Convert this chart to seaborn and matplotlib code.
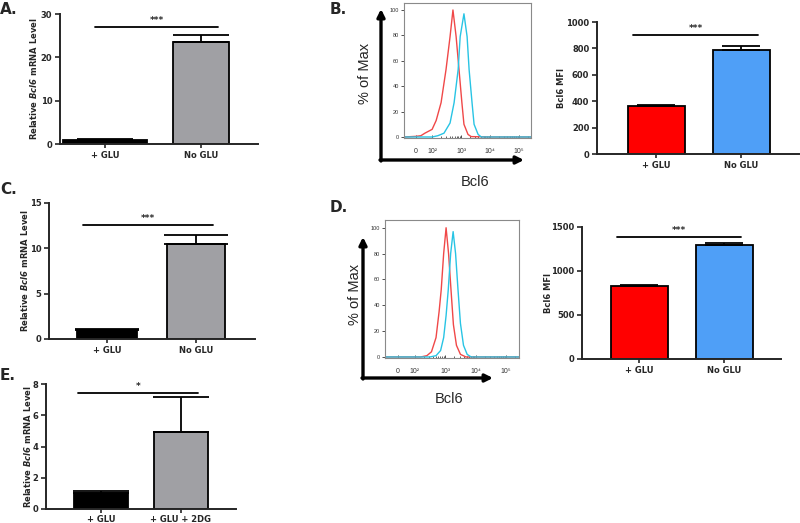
import numpy as np
import pandas as pd
import matplotlib
matplotlib.use('Agg')
import matplotlib.pyplot as plt
import matplotlib.ticker as mticker
import seaborn as sns

sns.set_style("ticks")
plt.rcParams['font.family'] = ['DejaVu Sans']
plt.rcParams['mathtext.fontset'] = 'custom'
plt.rcParams['mathtext.rm'] = 'DejaVu Sans'
plt.rcParams['mathtext.it'] = 'DejaVu Sans:italic'
plt.rcParams['mathtext.bf'] = 'DejaVu Sans:bold'
plt.rcParams['mathtext.bfit'] = 'DejaVu Sans:italic:bold'

# ---- data ----
# A. qPCR, glucose vs no glucose
a_groups = ['+ GLU', 'No GLU']
a_means = [1.0, 23.6]
a_sem = [0.1, 1.6]

# C. qPCR, second experiment
c_groups = ['+ GLU', 'No GLU']
c_means = [1.0, 10.5]
c_sem = [0.08, 1.0]

# E. qPCR, 2-deoxyglucose
e_groups = ['+ GLU', '+ GLU + 2DG']
e_means = [1.05, 4.95]
e_sem = [0.12, 2.2]

# B / D. Bcl6 MFI
b_groups = ['+ GLU', 'No GLU']
b_mfi = [365, 790]
b_sem = [10, 25]
d_groups = ['+ GLU', 'No GLU']
d_mfi = [835, 1290]
d_sem = [10, 30]

# B / D. flow histograms (Bcl6 intensity, % of max)
b_red_x = [-75, 0, 30, 55, 100, 138, 204, 302, 417, 525, 676, 851, 1070, 1260, 1740, 2240, 10000, 262144]
b_red_y = [0, 0.5, 1, 3, 6, 13, 27, 53, 79, 100, 79, 53, 27, 10, 2, 0.3, 0, 0]
b_blue_x = [-75, 100, 158, 257, 417, 575, 794, 933, 1260, 1620, 1900, 2400, 2820, 3890, 5010, 262144]
b_blue_y = [0, 0, 1, 3, 11, 27, 53, 79, 97, 79, 53, 27, 10, 2, 0, 0]
d_red_x = [-75, 158, 251, 355, 501, 631, 741, 891, 1070, 1290, 1550, 1860, 2340, 3160, 4790, 262144]
d_red_y = [0, 0, 1, 4, 15, 35, 52, 80, 100, 80, 52, 25, 9, 2, 0, 0]
d_blue_x = [-75, 316, 501, 708, 891, 1070, 1260, 1510, 1820, 2190, 2630, 3160, 3980, 5250, 7080, 262144]
d_blue_y = [0, 0, 1, 5, 15, 32, 52, 80, 97, 80, 52, 26, 9, 2, 0, 0]

hist_ticks = [0, 1e2, 1e3, 1e4, 1e5]
hist_ticklabels = ['0', '10²', '10³', '10⁴', '10⁵']

W, H = 800, 523
fig = plt.figure(figsize=(W / 100, H / 100), dpi=100)
ARIAL = ['Liberation Sans', 'DejaVu Sans']


def px_axes(l, t, r, b):
    return fig.add_axes([l / W, 1 - b / H, (r - l) / W, (b - t) / H])


def bar_panel(box, groups, means, sems, colors, ylim, yticks, xlim, widths,
              sig_x, sig_y, stars, ylabel, label_x, capsize, xpad=2):
    ax = px_axes(*box)
    df = pd.DataFrame({'group': groups, 'value': means})
    sns.barplot(data=df, x='group', y='value', hue='group', palette=colors,
                legend=False, ax=ax, width=0.67, saturation=1,
                edgecolor='black', linewidth=1.3, errorbar=None)
    # per-bar widths as drawn in the original
    for p, w, xc in zip(ax.patches, widths, range(len(groups))):
        p.set_width(w)
        p.set_x(xc - w / 2)
    ax.errorbar(range(len(groups)), means, yerr=[np.zeros(len(sems)), sems],
                fmt='none', ecolor='black', elinewidth=1.3, capsize=capsize,
                capthick=1.3, zorder=1)
    ax.set_ylim(*ylim)
    ax.set_xlim(*xlim)
    ax.set_yticks(yticks)
    ax.set_xlabel('')
    ax.set_ylabel(ylabel, fontsize=6, fontweight='bold')
    ax.yaxis.set_label_coords(label_x, 0.5)
    sns.despine(ax=ax)
    for s in ['left', 'bottom']:
        ax.spines[s].set_linewidth(1.4)
    ax.tick_params(axis='both', length=3.5, width=1.2, labelsize=6, pad=2)
    ax.tick_params(axis='x', pad=xpad, length=3)
    for lab in ax.get_xticklabels() + ax.get_yticklabels():
        lab.set_fontweight('bold')
    ax.plot(sig_x, [sig_y, sig_y], color='black', lw=1.3, clip_on=False)
    ax.text(np.mean(sig_x), sig_y + (ylim[1] - ylim[0]) * 0.015, stars,
            ha='center', va='bottom', fontsize=6.5, fontweight='bold')
    ax.set_facecolor('none')
    return ax


def hist_panel(box, red_x, red_y, blue_x, blue_y, ylim):
    ax = px_axes(*box)
    sns.lineplot(x=red_x, y=red_y, color='#f04848', lw=1, sort=False,
                 estimator=None, ax=ax)
    sns.lineplot(x=blue_x, y=blue_y, color='#28c4e4', lw=1, sort=False,
                 estimator=None, ax=ax)
    ax.set_xscale('symlog', linthresh=100, linscale=0.5)
    ax.set_xlim(-75, 262144)
    ax.set_ylim(*ylim)
    ax.set_xticks(hist_ticks)
    ax.set_xticklabels(hist_ticklabels)
    ax.xaxis.set_minor_locator(mticker.SymmetricalLogLocator(
        linthresh=100, base=10, subs=range(2, 10)))
    ax.set_yticks([0, 20, 40, 60, 80, 100])
    ax.tick_params(axis='x', which='major', direction='in', length=2.5,
                   width=0.6, labelsize=5, pad=7, colors='#333333')
    ax.tick_params(axis='x', which='minor', direction='in', length=1.5,
                   width=0.5)
    for lab in ax.get_xticklabels():
        lab.set_family(ARIAL)
    ax.tick_params(axis='y', direction='out', length=2, width=0.6,
                   labelsize=4, pad=1.5, colors='#333333')
    for lab in ax.get_yticklabels():
        lab.set_family(ARIAL)
    for s in ax.spines.values():
        s.set_color('#8a8a8a')
        s.set_linewidth(0.8)
    ax.set_xlabel('')
    ax.set_ylabel('')
    return ax


bar_colors = ['#000000', '#a0a0a4']
mfi_colors = ['#ff0000', '#4f9ff7']

bar_panel((60, 14, 258, 144), a_groups, a_means, a_sem, bar_colors,
          (0, 30), [0, 10, 20, 30], (-0.469, 1.594), [0.875, 0.58],
          [-0.10, 1.18], 27, '***', r'Relative $\mathbfit{Bcl6}$ mRNA Level',
          -0.106, 20)
bar_panel((49, 203, 255, 339), c_groups, c_means, c_sem, bar_colors,
          (0, 15), [0, 5, 10, 15], (-0.652, 1.663), [0.674, 0.65],
          [-0.27, 1.19], 12.6, '***', r'Relative $\mathbfit{Bcl6}$ mRNA Level',
          -0.092, 23)
bar_panel((46, 384, 236, 509), e_groups, e_means, e_sem, bar_colors,
          (0, 8), [0, 2, 4, 6, 8], (-0.6875, 1.6875), [0.675, 0.675],
          [-0.29, 1.21], 7.42, '*', r'Relative $\mathbfit{Bcl6}$ mRNA Level',
          -0.068, 20, xpad=1)
bar_panel((597, 22, 799, 154), b_groups, b_mfi, b_sem, mfi_colors,
          (0, 1000), [0, 200, 400, 600, 800, 1000], (-0.696, 1.678),
          [0.667, 0.667], [-0.27, 1.2], 905, '***', 'Bcl6 MFI', -0.153, 14)
bar_panel((582, 227, 781, 359), d_groups, d_mfi, d_sem, mfi_colors,
          (0, 1500), [0, 500, 1000, 1500], (-0.676, 1.665),
          [0.67, 0.67], [-0.26, 1.19], 1385, '***', 'Bcl6 MFI', -0.146, 14)

hist_panel((404, 3, 531, 138), b_red_x, b_red_y, b_blue_x, b_blue_y,
           (-0.8, 105.5))
hist_panel((385, 220, 519, 358), d_red_x, d_red_y, d_blue_x, d_blue_y,
           (-0.8, 106))

# overlay in figure pixels for arrows, axis titles and panel letters
ov = fig.add_axes([0, 0, 1, 1])
ov.set_xlim(0, W)
ov.set_ylim(H, 0)
ov.axis('off')
ov.patch.set_visible(False)
arrow = dict(arrowstyle='-|>', lw=2.4, color='black', mutation_scale=11,
             shrinkA=0, shrinkB=0)
ov.annotate('', xy=(381, 9), xytext=(381, 161), arrowprops=arrow)
ov.annotate('', xy=(524, 160), xytext=(380, 160), arrowprops=arrow)
ov.annotate('', xy=(363, 237), xytext=(363, 379), arrowprops=arrow)
ov.annotate('', xy=(493, 378), xytext=(362, 378), arrowprops=arrow)
ov.text(365, 73, '% of Max', rotation=90, ha='center', va='center',
        fontsize=10.5, family=ARIAL)
ov.text(475, 182, 'Bcl6', ha='center', va='center', fontsize=10.5, family=ARIAL)
ov.text(355, 294, '% of Max', rotation=90, ha='center', va='center',
        fontsize=10.5, family=ARIAL)
ov.text(449, 399, 'Bcl6', ha='center', va='center', fontsize=10.5, family=ARIAL)
for letter, x, y in [('A.', 0, 9), ('B.', 330, 9), ('C.', 0, 189),
                     ('D.', 330, 208), ('E.', 0, 375)]:
    ov.text(x, y, letter, ha='left', va='center', fontsize=11, fontweight='bold')

fig.savefig('out.png', dpi=100)
